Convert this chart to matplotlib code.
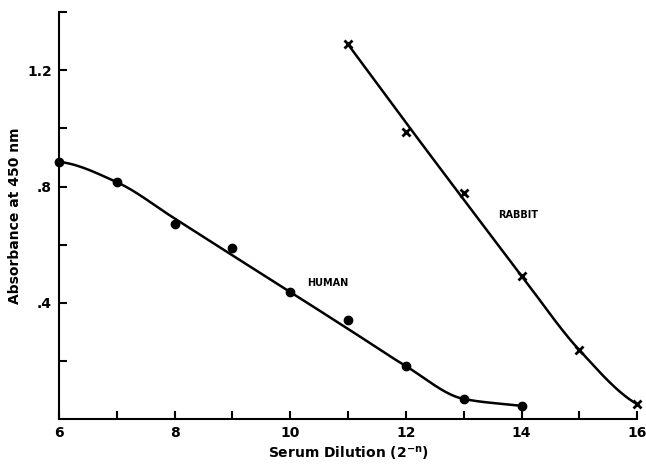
import numpy as np
import matplotlib.pyplot as plt

# measured points
human_x = [6, 7, 8, 9, 10, 11, 12, 13, 14]
human_y = [0.885, 0.815, 0.670, 0.588, 0.437, 0.340, 0.182, 0.069, 0.045]
rabbit_x = [11, 12, 13, 14, 15, 16]
rabbit_y = [1.289, 0.989, 0.778, 0.493, 0.237, 0.051]

# hand-drawn fitted curves (values of the curve read at each dilution)
human_fit = [0.885, 0.815, 0.690, 0.563, 0.437, 0.310, 0.182, 0.069, 0.045]
rabbit_fit = [1.289, 1.020, 0.755, 0.493, 0.237, 0.051]

x_ticks = [6, 8, 10, 12, 14, 16]
y_ticks = [0.4, 0.8, 1.2]
y_tick_labels = ['.4', '.8', '1.2']


def pchip(xk, yk, start=1.0, end=1.0, n=300):
    # monotone cubic through the curve values, no overshoot
    xk = np.asarray(xk, float)
    yk = np.asarray(yk, float)
    h = np.diff(xk)
    d = np.diff(yk) / h
    m = np.zeros_like(yk)
    for i in range(1, len(xk) - 1):
        if d[i - 1] * d[i] > 0:
            w1 = 2 * h[i] + h[i - 1]
            w2 = h[i] + 2 * h[i - 1]
            m[i] = (w1 + w2) / (w1 / d[i - 1] + w2 / d[i])
    m[0] = d[0] * start
    m[-1] = d[-1] * end
    xs = np.linspace(xk[0], xk[-1], n)
    idx = np.clip(np.searchsorted(xk, xs) - 1, 0, len(xk) - 2)
    t = (xs - xk[idx]) / h[idx]
    h00 = 2 * t ** 3 - 3 * t ** 2 + 1
    h10 = t ** 3 - 2 * t ** 2 + t
    h01 = -2 * t ** 3 + 3 * t ** 2
    h11 = t ** 3 - t ** 2
    ys = h00 * yk[idx] + h10 * h[idx] * m[idx] + h01 * yk[idx + 1] + h11 * h[idx] * m[idx + 1]
    return xs, ys


plt.rcParams['font.family'] = 'DejaVu Sans'
fig = plt.figure(figsize=(6.46, 4.66), dpi=100)
ax = fig.add_axes([0.0913, 0.1009, 0.895, 0.873])

hx, hy = pchip(human_x, human_fit, start=0.3, end=1.0)
rx, ry = pchip(rabbit_x, rabbit_fit, start=1.0, end=0.6)
ax.plot(hx, hy, color='black', lw=1.8)
ax.plot(rx, ry, color='black', lw=1.8)
ax.plot(human_x, human_y, 'o', color='black', ms=6, clip_on=False)
ax.plot(rabbit_x, rabbit_y, 'x', color='black', ms=6, mew=2, clip_on=False)

ax.text(10.65, 0.467, 'HUMAN', fontsize=7, fontweight='bold', ha='center', va='center')
ax.text(13.94, 0.703, 'RABBIT', fontsize=7, fontweight='bold', ha='center', va='center')

ax.set_xlim(6, 16)
ax.set_ylim(0, 1.4)
ax.set_xticks(x_ticks)
ax.set_xticks([7, 9, 11, 13, 15], minor=True)
ax.set_yticks(y_ticks)
ax.set_yticklabels(y_tick_labels)
ax.set_yticks([0.2, 0.6, 1.0, 1.4], minor=True)
ax.tick_params(direction='in', length=6, width=1.5, labelsize=10, pad=5)
ax.tick_params(which='minor', direction='in', length=6, width=1.5)
for lab in ax.get_xticklabels() + ax.get_yticklabels():
    lab.set_fontweight('bold')

ax.spines['top'].set_visible(False)
ax.spines['right'].set_visible(False)
ax.spines['left'].set_linewidth(1.5)
ax.spines['bottom'].set_linewidth(1.5)

ax.set_xlabel('Serum Dilution (2$^{\\mathbf{-n}}$)', fontsize=10, fontweight='bold', labelpad=3)
ax.set_ylabel('Absorbance at 450 nm', fontsize=10, fontweight='bold', labelpad=4)

plt.savefig('out.png', dpi=100)
